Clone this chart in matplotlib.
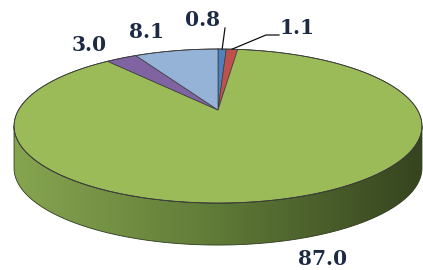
"""3D pie chart (Excel style) recreated with matplotlib."""

import numpy as np
import matplotlib

matplotlib.use("Agg")
import matplotlib.pyplot as plt  # noqa: E402
from matplotlib.patches import Polygon  # noqa: E402

# data
values = [0.8, 1.1, 87.0, 3.0, 8.1]
labels = ["0.8", "1.1", "87.0", "3.0", "8.1"]
colors = ["#4F81BD", "#C0504D", "#9BBB59", "#8064A2", "#95B3D7"]

# label positions in pixels (x, y from top) and leader line elbows
label_pos = [(203, 20), (297, 28), (323, 259), (89, 45), (146, 32)]
leader = {0: [(225, 28)], 1: [(279, 35), (266, 35)]}

# pie geometry (pixels): vertex, scale, perspective, thickness
CX, CY = 218, 110
SX, SY = 199.5, 73.7
K = 0.208
DEPTH = 42
W, H = 423, 270


def project(theta_deg, r=1.0):
    t = np.radians(theta_deg)
    x, y = r * np.sin(t), r * np.cos(t)
    d = 1 + K * y
    return CX + SX * x / d, CY - SY * y / d


fig = plt.figure(figsize=(W / 100, H / 100), dpi=100)
ax = fig.add_axes([0, 0, 1, 1])
ax.set_xlim(0, W)
ax.set_ylim(H, 0)
ax.axis("off")

# side wall: swept area between top rim and bottom rim (front part only)
th = np.linspace(0, 360, 721)
px, py = project(th)
iL, iR = int(np.argmin(px)), int(np.argmax(px))
idx = np.arange(iR, iL + 1)  # front arc, right -> left through bottom
front = np.column_stack([px[idx], py[idx]])
bottom = front[::-1] + [0, DEPTH]
side = Polygon(np.vstack([front, bottom]), closed=True, facecolor="none",
               edgecolor="#2f3a1c", lw=0.6, zorder=2)
ax.add_patch(side)
grad = np.linspace(0, 1, 256)[None, :]
cmap = matplotlib.colors.LinearSegmentedColormap.from_list(
    "side", ["#86A550", "#5F7A37", "#36441F"])
img = ax.imshow(grad, cmap=cmap, aspect="auto", zorder=1,
                extent=[px[iL], px[iR], py.max() + DEPTH, py.min()])
img.set_clip_path(side)

# top face wedges
total = sum(values)
start = 0.0
mids = []
for v, c in zip(values, colors):
    span = 360 * v / total
    a = np.linspace(start, start + span, max(int(span * 2), 2))
    ex, ey = project(a)
    pts = np.vstack([[CX, CY], np.column_stack([ex, ey])])
    ax.add_patch(Polygon(pts, closed=True, facecolor=c, edgecolor="#3b3b3b",
                         lw=0.5, zorder=3))
    mids.append(start + span / 2)
    start += span

ax.plot(px, py, color="#3b3b3b", lw=0.6, zorder=4)

# labels and leader lines
for i, (lab, (lx, ly)) in enumerate(zip(labels, label_pos)):
    ax.text(lx, ly, lab, ha="center", va="center", fontsize=14.5,
            fontweight="bold", family="DejaVu Serif", color="#1c2a44", zorder=6)
    if i in leader:
        ex, ey = project(mids[i])
        pts = np.array([(ex, ey)] + leader[i][::-1])
        ax.plot(pts[:, 0], pts[:, 1], color="#111111", lw=0.9, zorder=5)

fig.savefig("out.png", dpi=100, facecolor="white")
